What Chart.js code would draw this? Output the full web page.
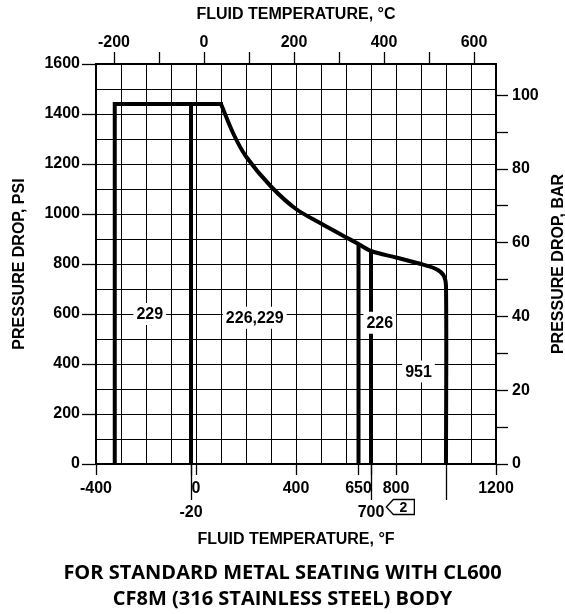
<!DOCTYPE html>
<html>
<head>
<meta charset="utf-8">
<script src="https://cdn.jsdelivr.net/npm/chart.js@4.4.1/dist/chart.umd.min.js"></script>
<style>
  html, body { margin: 0; padding: 0; background: #fff; overflow: hidden; }
  #wrap { width: 565px; height: 614px; position: relative; }
</style>
</head>
<body>
<div id="wrap"><canvas id="chart"></canvas></div>
<script>
// envelope: fluid temperature (°F) vs pressure drop (psi)
const envelopeTempF = [-325, -325, 100];
const envelopePsi = [0, 1440, 1440];

// derating curve, ends going straight down at 1000 °F
const curveTempF = [100, 150, 200, 300, 400, 500, 600, 650, 700, 800, 900, 960, 990, 1000, 1000];
const curvePsi = [1440, 1320, 1230, 1110, 1020, 962, 907, 880, 852, 826, 800, 780, 755, 710, 0];

// vertical limit lines between the regions
const limitTempF = [-20, 650, 700];
const limitTopPsi = [1440, 880, 852];

// labels inside the regions
const regionLabels = ['229', '226,229', '226', '951'];
const regionTempF = [-185, 235, 735, 890];
const regionPsi = [600, 585, 565, 370];

// tick labels
const tempFTicks = [-400, 0, 400, 650, 800, 1200];
const tempFTicksLow = [-20, 700];
const tempFExtended = [-20, 700, 1000];
const tempCTicks = [-200, 0, 200, 400, 600];
const psiTicks = [0, 200, 400, 600, 800, 1000, 1200, 1400, 1600];
const barTicks = [0, 20, 40, 60, 80, 100];

const BLACK = '#000';
const NONE = 'rgba(0,0,0,0)';
const FONT = 'Liberation Sans';

Chart.defaults.font.family = FONT;
Chart.defaults.font.weight = 'bold';
Chart.defaults.font.size = 16;
Chart.defaults.color = BLACK;

const toPoints = (xs, ys) => xs.map((v, i) => ({ x: v, y: ys[i] }));

const lineStyle = {
    showLine: true,
    borderColor: BLACK,
    borderWidth: 4,
    pointRadius: 0,
    fill: false,
    borderJoinStyle: 'miter'
};

const datasets = [
    { ...lineStyle, data: toPoints(envelopeTempF, envelopePsi), borderCapStyle: 'square', tension: 0 },
    { ...lineStyle, data: toPoints(curveTempF, curvePsi), tension: 0.3 },
    ...limitTempF.map((t, i) => ({ ...lineStyle, data: [{ x: t, y: 0 }, { x: t, y: limitTopPsi[i] }], tension: 0 }))
];

const overlay = {
    id: 'overlay',
    afterDatasetsDraw(chart) {
        const { ctx, scales: { x, y } } = chart;
        ctx.save();
        ctx.font = 'bold 16px "' + FONT + '"';
        ctx.textAlign = 'center';
        ctx.textBaseline = 'middle';
        regionLabels.forEach((txt, i) => {
            const px = x.getPixelForValue(regionTempF[i]);
            const py = y.getPixelForValue(regionPsi[i]);
            const w = ctx.measureText(txt).width;
            ctx.fillStyle = '#fff';
            ctx.fillRect(px - w / 2 - 3, py - 11, w + 6, 22);
            ctx.fillStyle = BLACK;
            ctx.fillText(txt, px, py + 1);
        });
        ctx.restore();
    },
    afterDraw(chart) {
        const { ctx, chartArea, scales: { x } } = chart;
        ctx.save();
        ctx.strokeStyle = BLACK;
        ctx.fillStyle = BLACK;
        ctx.lineWidth = 1.3;
        // long ticks below the °F axis
        tempFExtended.forEach(v => {
            const px = Math.round(x.getPixelForValue(v)) + 0.5;
            ctx.beginPath();
            ctx.moveTo(px, chartArea.bottom);
            ctx.lineTo(px, chartArea.bottom + 36);
            ctx.stroke();
        });

        // note flag after the 700 label
        ctx.font = 'bold 16px "' + FONT + '"';
        const x7 = x.getPixelForValue(700);
        const w7 = ctx.measureText('700').width;
        const cy = chartArea.bottom + 43;
        const left = x7 + w7 / 2 + 2;
        ctx.beginPath();
        ctx.moveTo(left, cy);
        ctx.lineTo(left + 7, cy - 7.5);
        ctx.lineTo(left + 28, cy - 7.5);
        ctx.lineTo(left + 28, cy + 7.5);
        ctx.lineTo(left + 7, cy + 7.5);
        ctx.closePath();
        ctx.stroke();
        ctx.font = 'bold 14px "' + FONT + '"';
        ctx.textAlign = 'center';
        ctx.textBaseline = 'middle';
        ctx.fillText('2', left + 17, cy + 1);

        // right axis title, reads bottom to top
        ctx.font = 'bold 16px "' + FONT + '"';
        ctx.translate(chart.width - 2, (chartArea.top + chartArea.bottom) / 2);
        ctx.rotate(-Math.PI / 2);
        ctx.textAlign = 'center';
        ctx.textBaseline = 'alphabetic';
        ctx.fillText('PRESSURE DROP, BAR', 0, 0);
        ctx.restore();
    }
};

new Chart(document.getElementById('chart'), {
    type: 'scatter',
    data: { datasets },
    options: {
        responsive: true,
        maintainAspectRatio: false,
        animation: false,
        layout: { padding: 0 },
        plugins: {
            legend: { display: false },
            tooltip: { enabled: false },
            title: {
                display: true,
                position: 'bottom',
                text: ['FOR STANDARD METAL SEATING WITH CL600', 'CF8M (316 STAINLESS STEEL) BODY'],
                font: { family: 'Open Sans', weight: 'bold', size: 20, lineHeight: 1.3 },
                color: BLACK,
                padding: { top: 6, bottom: 2 }
            }
        },
        scales: {
            x: {
                type: 'linear',
                position: 'bottom',
                min: -400,
                max: 1200,
                afterBuildTicks: s => {
                    const extra = [-20, 650].map(v => ({ value: v }));
                    s.ticks = s.ticks.concat(extra).sort((a, b) => a.value - b.value);
                },
                ticks: {
                    stepSize: 100,
                    autoSkip: false,
                    maxRotation: 0,
                    padding: 2,
                    font: { size: 16, lineHeight: 1.47 },
                    callback: v => {
                        if (tempFTicks.includes(v)) return String(v);
                        if (tempFTicksLow.includes(v)) return ['', String(v)];
                        return '';
                    }
                },
                grid: {
                    color: c => (c.tick && c.tick.value % 100 === 0) ? BLACK : NONE,
                    lineWidth: 1,
                    tickLength: 11,
                    tickColor: c => (c.tick && (tempFTicks.includes(c.tick.value) || tempFTicksLow.includes(c.tick.value))) ? BLACK : NONE,
                    tickWidth: 1.3
                },
                border: { color: BLACK, width: 1.5 },
                title: { display: true, text: 'FLUID TEMPERATURE, °F', font: { size: 16 }, padding: { top: 0, bottom: 5 } },
                afterFit: s => { s.height = 90; }
            },
            xTop: {
                type: 'linear',
                position: 'top',
                min: (-400 - 32) / 1.8,
                max: (1200 - 32) / 1.8,
                afterBuildTicks: s => {
                    // a tick mark every 100 °C, labels every 200 °C
                    const marks = [];
                    for (let v = tempCTicks[0]; v <= tempCTicks[tempCTicks.length - 1]; v += 100) marks.push({ value: v });
                    s.ticks = marks;
                },
                ticks: {
                    autoSkip: false,
                    maxRotation: 0,
                    padding: 0,
                    callback: v => tempCTicks.includes(v) ? String(v) : ''
                },
                grid: { drawOnChartArea: false, tickLength: 12, tickColor: BLACK, tickWidth: 1.3 },
                border: { color: BLACK, width: 1.5 },
                title: { display: true, text: 'FLUID TEMPERATURE, °C', font: { size: 16 }, padding: { top: 5, bottom: 0 } },
                afterFit: s => { s.height = 64; }
            },
            y: {
                position: 'left',
                min: 0,
                max: 1600,
                ticks: {
                    stepSize: 100,
                    autoSkip: false,
                    padding: 2,
                    callback: v => psiTicks.includes(v) ? String(v) : ''
                },
                grid: {
                    color: BLACK,
                    lineWidth: 1,
                    tickLength: 14,
                    tickColor: c => (c.tick && psiTicks.includes(c.tick.value)) ? BLACK : NONE,
                    tickWidth: 1.3
                },
                border: { color: BLACK, width: 1.5 },
                title: { display: true, text: 'PRESSURE DROP, PSI', font: { size: 16 }, padding: { top: 10, bottom: 0 } },
                afterFit: s => { s.width = 96; }
            },
            yRight: {
                position: 'right',
                min: 0,
                max: 108.5,
                afterBuildTicks: s => { s.ticks = s.ticks.filter(t => t.value % 10 === 0); },
                ticks: {
                    stepSize: 10,
                    autoSkip: false,
                    padding: 4,
                    callback: v => barTicks.includes(v) ? String(v) : ''
                },
                grid: { drawOnChartArea: false, tickLength: 12, tickColor: BLACK, tickWidth: 1.3 },
                border: { color: BLACK, width: 1.5 },
                afterFit: s => { s.width = 69; }
            }
        }
    },
    plugins: [overlay]
});
</script>
</body>
</html>
